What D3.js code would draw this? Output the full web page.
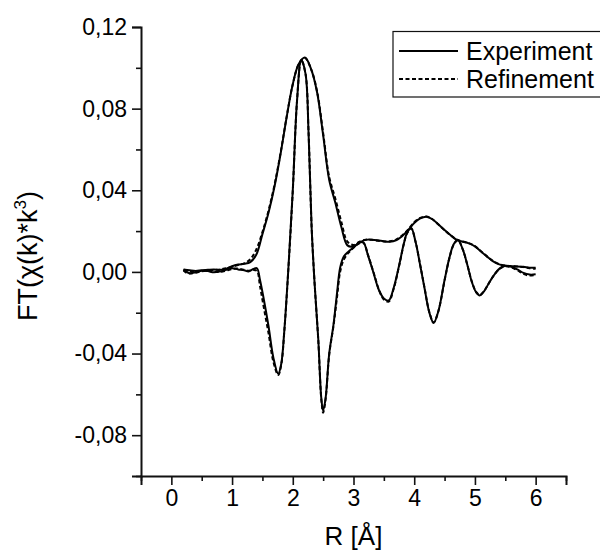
<!DOCTYPE html>
<html>
<head>
<meta charset="utf-8">
<script src="https://cdn.jsdelivr.net/npm/d3@7"></script>
<style>
  html, body { margin: 0; padding: 0; background: #fff; }
  svg { display: block; font-family: "Liberation Sans", Arial, sans-serif; }
</style>
</head>
<body>
<svg id="chart" width="600" height="552"></svg>
<script>
// Fourier-transform magnitude, R grid (Å)
const rMag = [0.20,0.30,0.40,0.50,0.60,0.70,0.80,0.90,1.00,1.10,1.20,1.30,1.40,1.50,1.60,1.70,1.80,1.90,2.00,2.10,2.20,2.30,2.40,2.50,2.60,2.70,2.80,2.90,3.00,3.10,3.20,3.30,3.40,3.50,3.60,3.70,3.80,3.90,4.00,4.10,4.20,4.30,4.40,4.50,4.60,4.70,4.80,4.90,5.00,5.10,5.20,5.30,5.40,5.50,5.60,5.70,5.80,5.90,6.00];
const magExp = [0.0012,0.0008,0.0005,0.0008,0.0010,0.0012,0.0010,0.0015,0.0028,0.0036,0.0040,0.0048,0.0085,0.0185,0.0290,0.0420,0.0580,0.0760,0.0920,0.1020,0.1050,0.0995,0.0880,0.0670,0.0450,0.0340,0.0220,0.0130,0.0125,0.0145,0.0157,0.0158,0.0155,0.0150,0.0148,0.0155,0.0175,0.0205,0.0240,0.0262,0.0270,0.0258,0.0232,0.0205,0.0180,0.0157,0.0148,0.0140,0.0125,0.0100,0.0075,0.0052,0.0037,0.0030,0.0028,0.0027,0.0025,0.0021,0.0020];
const magFit = [0.0006,0.0003,0.0001,0.0005,0.0008,0.0010,0.0012,0.0018,0.0025,0.0034,0.0042,0.0062,0.0110,0.0195,0.0300,0.0428,0.0585,0.0762,0.0920,0.1018,0.1048,0.0995,0.0885,0.0680,0.0465,0.0360,0.0245,0.0148,0.0132,0.0148,0.0158,0.0157,0.0153,0.0149,0.0150,0.0158,0.0178,0.0208,0.0243,0.0265,0.0271,0.0258,0.0232,0.0204,0.0179,0.0158,0.0149,0.0141,0.0126,0.0101,0.0076,0.0053,0.0038,0.0031,0.0029,0.0027,0.0024,0.0018,0.0015];

// Imaginary part, R grid (Å)
const rIm = [0.20,0.25,0.30,0.40,0.50,0.60,0.70,0.80,0.90,1.00,1.10,1.20,1.27,1.35,1.41,1.46,1.52,1.60,1.68,1.76,1.81,1.86,1.93,2.00,2.07,2.14,2.21,2.26,2.31,2.36,2.42,2.47,2.50,2.54,2.60,2.67,2.73,2.78,2.84,2.92,3.00,3.08,3.16,3.24,3.33,3.42,3.50,3.58,3.66,3.75,3.83,3.88,3.95,4.02,4.10,4.17,4.25,4.32,4.40,4.50,4.58,4.65,4.72,4.80,4.87,4.95,5.02,5.08,5.15,5.22,5.30,5.40,5.50,5.60,5.70,5.80,5.90,6.00];
const imExp = [0.0012,0.0000,-0.0006,-0.0002,0.0006,0.0004,-0.0002,0.0002,0.0010,0.0018,0.0012,0.0008,0.0002,0.0014,0.0018,-0.0040,-0.0130,-0.0265,-0.0420,-0.0500,-0.0450,-0.0290,0.0030,0.0400,0.0840,0.1040,0.0970,0.0680,0.0220,-0.0060,-0.0330,-0.0620,-0.0680,-0.0620,-0.0400,-0.0260,-0.0100,0.0020,0.0075,0.0100,0.0120,0.0140,0.0145,0.0080,-0.0005,-0.0090,-0.0130,-0.0140,-0.0080,0.0030,0.0140,0.0190,0.0215,0.0150,0.0030,-0.0080,-0.0200,-0.0250,-0.0190,-0.0040,0.0070,0.0135,0.0157,0.0110,0.0040,-0.0050,-0.0100,-0.0115,-0.0095,-0.0060,-0.0022,0.0015,0.0030,0.0025,0.0012,-0.0005,-0.0013,-0.0012];
const imFit = [0.0008,-0.0005,-0.0008,-0.0004,0.0003,0.0006,0.0001,0.0000,0.0006,0.0014,0.0016,0.0010,0.0006,0.0010,0.0005,-0.0070,-0.0170,-0.0300,-0.0440,-0.0505,-0.0455,-0.0292,0.0028,0.0398,0.0838,0.1038,0.0970,0.0682,0.0222,-0.0060,-0.0335,-0.0625,-0.0690,-0.0625,-0.0405,-0.0265,-0.0120,0.0000,0.0060,0.0095,0.0118,0.0138,0.0144,0.0082,-0.0002,-0.0088,-0.0135,-0.0145,-0.0085,0.0028,0.0138,0.0188,0.0213,0.0150,0.0032,-0.0078,-0.0198,-0.0248,-0.0190,-0.0042,0.0068,0.0133,0.0155,0.0110,0.0040,-0.0048,-0.0098,-0.0113,-0.0094,-0.0060,-0.0022,0.0014,0.0028,0.0022,0.0008,-0.0010,-0.0018,-0.0015];

// Axis ticks and labels
const xTicks = [0, 1, 2, 3, 4, 5, 6];
const xMinorTicks = [-0.5, 0.5, 1.5, 2.5, 3.5, 4.5, 5.5, 6.5];
const yTicks = [-0.08, -0.04, 0.00, 0.04, 0.08, 0.12];
const yMinorTicks = [-0.10, -0.06, -0.02, 0.02, 0.06, 0.10];
const seriesNames = ["Experiment", "Refinement"];
const xTitle = "R [Å]";

const svg = d3.select("#chart");
const plot = { left: 141, right: 566, top: 27, bottom: 476 };

const x = d3.scaleLinear().domain([-0.5, 6.5]).range([plot.left, plot.right]);
const y = d3.scaleLinear().domain([-0.10, 0.12]).range([plot.bottom, plot.top]);

const fmtY = v => v.toFixed(2).replace(".", ",");

// Axes
const gx = svg.append("g").attr("transform", `translate(0,${plot.bottom})`);
gx.call(d3.axisBottom(x).tickValues(xTicks).tickSize(9).tickPadding(5).tickFormat(d3.format("d")));
const gxm = svg.append("g").attr("transform", `translate(0,${plot.bottom})`);
gxm.call(d3.axisBottom(x).tickValues(xMinorTicks).tickSize(5).tickFormat(""));

const gy = svg.append("g").attr("transform", `translate(${plot.left},0)`);
gy.call(d3.axisLeft(y).tickValues(yTicks).tickSize(9).tickPadding(5).tickFormat(fmtY));
const gym = svg.append("g").attr("transform", `translate(${plot.left},0)`);
gym.call(d3.axisLeft(y).tickValues(yMinorTicks).tickSize(5).tickFormat(""));

svg.selectAll(".domain").attr("stroke", "#111").attr("stroke-width", 2);
svg.selectAll(".tick line").attr("stroke", "#111").attr("stroke-width", 1.6);
gx.selectAll(".tick text").attr("font-size", 23).attr("fill", "#000").attr("font-family", "Liberation Sans, Arial, sans-serif");
gy.selectAll(".tick text").attr("font-size", 23).attr("fill", "#000").attr("font-family", "Liberation Sans, Arial, sans-serif");
gxm.select(".domain").remove();
gym.select(".domain").remove();

// Axis titles
svg.append("text")
  .attr("x", (plot.left + plot.right) / 2)
  .attr("y", 545)
  .attr("text-anchor", "middle")
  .attr("font-size", 26)
  .attr("fill", "#000")
  .text(xTitle);

const yt = svg.append("text")
  .attr("transform", "translate(37,256) rotate(-90)")
  .attr("text-anchor", "middle")
  .attr("font-size", 27)
  .attr("fill", "#000");
yt.append("tspan").text("FT(χ(k)*k");
yt.append("tspan").attr("font-size", 17).attr("dy", -11).text("3");
yt.append("tspan").attr("dy", 11).text(")");

// Curves
const line = d3.line()
  .x(d => x(d[0]))
  .y(d => y(d[1]))
  .curve(d3.curveCatmullRom.alpha(0.5));

const curves = [
  { r: rMag, v: magFit, dash: "4,2.5" },
  { r: rIm, v: imFit, dash: "4,2.5" },
  { r: rMag, v: magExp, dash: null },
  { r: rIm, v: imExp, dash: null }
];

svg.append("g").selectAll("path")
  .data(curves)
  .join("path")
  .attr("d", c => line(c.r.map((r, i) => [r, c.v[i]])))
  .attr("fill", "none")
  .attr("stroke", "#000")
  .attr("stroke-width", 2)
  .attr("stroke-linejoin", "round")
  .attr("stroke-dasharray", c => c.dash);

// Legend
const lg = svg.append("g");
lg.append("rect")
  .attr("x", 393).attr("y", 31.5)
  .attr("width", 215).attr("height", 65.5)
  .attr("fill", "#fff").attr("stroke", "#111").attr("stroke-width", 1.2);
seriesNames.forEach((name, i) => {
  const cy = 51 + i * 28;
  lg.append("line")
    .attr("x1", 399).attr("x2", 458)
    .attr("y1", cy).attr("y2", cy)
    .attr("stroke", "#000").attr("stroke-width", 2)
    .attr("stroke-dasharray", i === 1 ? "4,2.5" : null);
  lg.append("text")
    .attr("x", 466).attr("y", cy + 9)
    .attr("font-size", 25)
    .attr("fill", "#000")
    .text(name);
});
</script>
</body>
</html>
